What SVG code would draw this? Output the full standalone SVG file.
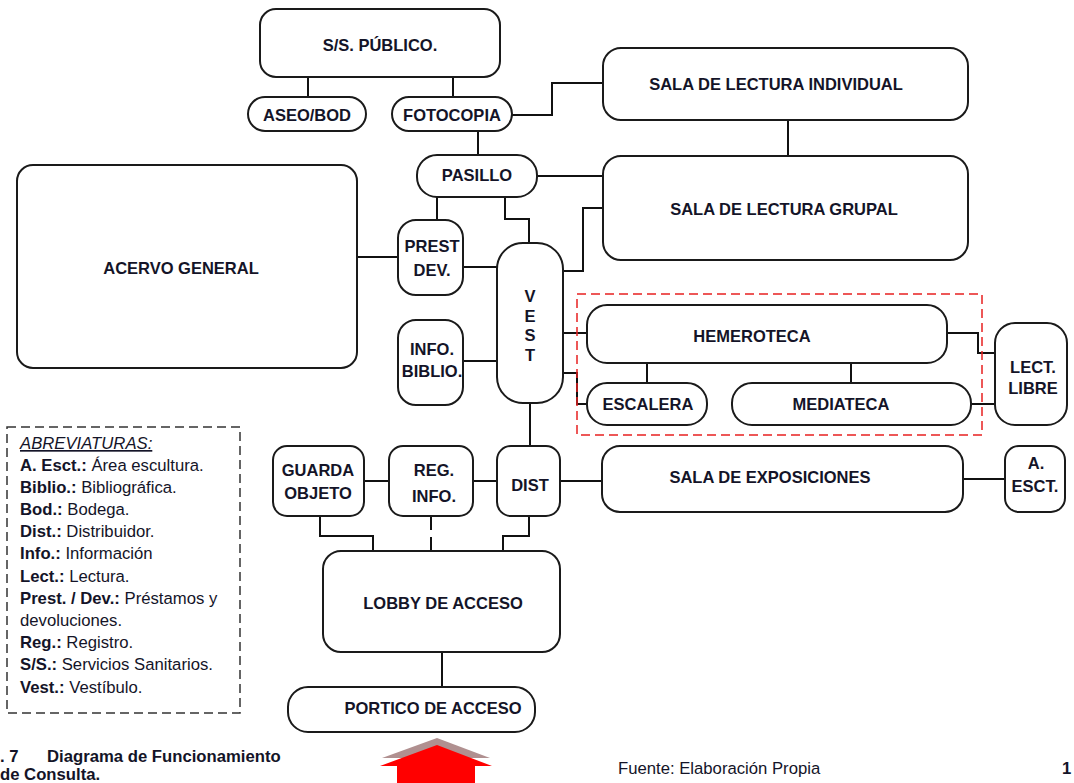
<svg xmlns="http://www.w3.org/2000/svg" width="1074" height="783" viewBox="0 0 1074 783">
<style>
.n{fill:#fff;stroke:#1a1a1a;stroke-width:2}
.t{font-family:"Liberation Sans",Arial,sans-serif;font-weight:bold;font-size:16.5px;fill:#141428;text-anchor:middle;dominant-baseline:central}
.c{fill:none;stroke:#111;stroke-width:2}
.lg{font-family:"Liberation Sans",Arial,sans-serif;font-size:16.7px;fill:#141428}
.lg tspan.b{font-weight:bold}
</style>
<rect width="1074" height="783" fill="#fff"/>
<g id="connectors">
<path class="c" d="M308 77V97M453 77V97M512 115H552V83H603M478 131V155M537 176H603M788 120V156M437 197V220M505 197V219H529V243M357 257H398M463 267H497M463 361H497M563 271H583V208H603M563 333H587M563 373H577V404H587M647 363V383M851 363V383M947 333H978V353H995M971 404H995M530 403V446M364 481H389M473 481H497M560 481H603M963 479H1005M320 516V536H373V551M431 516V530M431 537V551M529 516V536H503V551M442 652V687"/>
</g>
<rect x="577" y="294" width="405" height="141" fill="none" stroke="#e82020" stroke-width="1.5" stroke-dasharray="9,5"/>
<g id="ss"><rect class="n" x="260" y="9" width="240" height="68" rx="16"/><text class="t" x="380" y="45">S/S. PÚBLICO.</text></g>
<g id="aseo"><rect class="n" x="248" y="97" width="118" height="34" rx="17"/><text class="t" x="307" y="115">ASEO/BOD</text></g>
<g id="fotocopia"><rect class="n" x="392" y="97" width="120" height="34" rx="17"/><text class="t" x="452" y="115">FOTOCOPIA</text></g>
<g id="pasillo"><rect class="n" x="417" y="155" width="120" height="42" rx="20"/><text class="t" x="477" y="175">PASILLO</text></g>
<g id="individual"><rect class="n" x="603" y="48" width="365" height="72" rx="18"/><text class="t" x="776" y="84">SALA DE LECTURA INDIVIDUAL</text></g>
<g id="grupal"><rect class="n" x="603" y="156" width="365" height="104" rx="18"/><text class="t" x="784" y="209">SALA DE LECTURA GRUPAL</text></g>
<g id="acervo"><rect class="n" x="17" y="165" width="340" height="203" rx="16"/><text class="t" x="181" y="268">ACERVO GENERAL</text></g>
<g id="prest"><rect class="n" x="398" y="220" width="65" height="75" rx="18"/><text class="t" x="432" y="246">PREST</text><text class="t" x="432" y="270">DEV.</text></g>
<g id="info"><rect class="n" x="398" y="320" width="65" height="85" rx="18"/><text class="t" x="432" y="349">INFO.</text><text class="t" x="432" y="371">BIBLIO.</text></g>
<g id="vest"><rect class="n" x="497" y="243" width="66" height="160" rx="26"/><text class="t" x="530" y="296">V</text><text class="t" x="530" y="316">E</text><text class="t" x="530" y="335">S</text><text class="t" x="530" y="355">T</text></g>
<g id="hemeroteca"><rect class="n" x="587" y="305" width="360" height="58" rx="20"/><text class="t" x="752" y="336">HEMEROTECA</text></g>
<g id="escalera"><rect class="n" x="587" y="383" width="120" height="42" rx="20"/><text class="t" x="648" y="404">ESCALERA</text></g>
<g id="mediateca"><rect class="n" x="732" y="383" width="239" height="42" rx="20"/><text class="t" x="841" y="404">MEDIATECA</text></g>
<g id="lectlibre"><rect class="n" x="995" y="323" width="72" height="102" rx="20"/><text class="t" x="1033" y="367">LECT.</text><text class="t" x="1033" y="388">LIBRE</text></g>
<g id="guarda"><rect class="n" x="273" y="446" width="91" height="70" rx="14"/><text class="t" x="318" y="470">GUARDA</text><text class="t" x="318" y="493">OBJETO</text></g>
<g id="reg"><rect class="n" x="389" y="446" width="84" height="70" rx="14"/><text class="t" x="434" y="470">REG.</text><text class="t" x="434" y="496">INFO.</text></g>
<g id="dist"><rect class="n" x="497" y="446" width="63" height="70" rx="14"/><text class="t" x="530" y="485">DIST</text></g>
<g id="exposiciones"><rect class="n" x="602" y="446" width="361" height="66" rx="18"/><text class="t" x="770" y="477">SALA DE EXPOSICIONES</text></g>
<g id="aesct"><rect class="n" x="1005" y="446" width="60" height="66" rx="14"/><text class="t" x="1036" y="463">A.</text><text class="t" x="1035" y="486">ESCT.</text></g>
<g id="lobby"><rect class="n" x="323" y="551" width="237" height="101" rx="18"/><text class="t" x="443" y="603">LOBBY DE ACCESO</text></g>
<g id="portico"><rect class="n" x="288" y="687" width="247" height="45" rx="20"/><text class="t" x="433" y="708">PORTICO DE ACCESO</text></g>
<g id="arrow">
<polygon points="437,738 382,758 490,758" fill="#b09090"/>
<polygon points="437,745 380,766 397,766 397,783 475,783 475,766 492,766" fill="#ff0000"/>
</g>
<g id="legend">
<rect x="7" y="427" width="233" height="286" fill="none" stroke="#333" stroke-width="1.5" stroke-dasharray="9,5"/>
<text class="lg" x="20" y="449" font-style="italic" text-decoration="underline">ABREVIATURAS:</text>
<text class="lg" x="20" y="471"><tspan class="b">A. Esct.:</tspan> Área escultura.</text>
<text class="lg" x="20" y="493"><tspan class="b">Biblio.:</tspan> Bibliográfica.</text>
<text class="lg" x="20" y="515"><tspan class="b">Bod.:</tspan> Bodega.</text>
<text class="lg" x="20" y="537"><tspan class="b">Dist.:</tspan> Distribuidor.</text>
<text class="lg" x="20" y="559"><tspan class="b">Info.:</tspan> Información</text>
<text class="lg" x="20" y="582"><tspan class="b">Lect.:</tspan> Lectura.</text>
<text class="lg" x="20" y="604"><tspan class="b">Prest. / Dev.:</tspan> Préstamos y</text>
<text class="lg" x="20" y="626">devoluciones.</text>
<text class="lg" x="20" y="648"><tspan class="b">Reg.:</tspan> Registro.</text>
<text class="lg" x="20" y="670"><tspan class="b">S/S.:</tspan> Servicios Sanitarios.</text>
<text class="lg" x="20" y="693"><tspan class="b">Vest.:</tspan> Vestíbulo.</text>
</g>
<g id="caption">
<text class="lg" x="0" y="762" font-weight="bold">. 7<tspan x="47">Diagrama de Funcionamiento</tspan></text>
<text class="lg" x="0" y="780" font-weight="bold">de Consulta.</text>
<text class="lg" x="618" y="774">Fuente: Elaboración Propia</text>
<text class="lg" x="1062" y="774" font-weight="bold">1</text>
</g>
</svg>
